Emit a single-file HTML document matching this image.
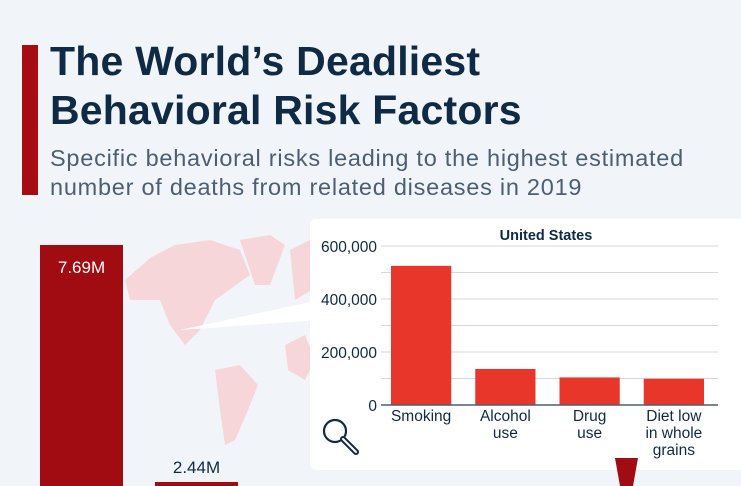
<!DOCTYPE html>
<html><head><meta charset="utf-8"><style>
body{margin:0;width:741px;height:486px;overflow:hidden;background:#f1f5f9;font-family:"Liberation Sans",sans-serif;position:relative}
.abs{position:absolute}
</style></head><body>
<div class="abs" style="left:22px;top:45px;width:16px;height:150px;background:#a50d12"></div>
<div class="abs" style="left:50px;top:37px;font-size:41px;letter-spacing:0.2px;font-weight:bold;color:#0f2a44;line-height:49px;white-space:nowrap">The World’s Deadliest<br>Behavioral Risk Factors</div>
<div class="abs" style="left:50px;top:144px;font-size:23.5px;letter-spacing:0.75px;color:#4b5e74;line-height:29px;white-space:nowrap">Specific behavioral risks leading to the highest estimated<br>number of deaths from related diseases in 2019</div>
<svg class="abs" style="left:0;top:0" width="741" height="486">
<g fill="#f6d6d8">
<path d="M125 280 L150 258 L175 245 L210 240 L240 250 L250 275 L215 300 L200 330 L185 345 L170 325 L160 300 L130 300Z"/>
<path d="M240 240 L270 235 L285 245 L270 285 L255 285Z"/>
<path d="M215 370 L240 365 L258 385 L248 410 L235 440 L225 445 L220 410Z"/>
<path d="M285 345 L305 335 L315 360 L305 380 L288 370Z"/>
<path d="M290 250 L310 240 L312 290 L295 300Z"/>
</g>
<path d="M180 330 L320 300 L320 320Z" fill="#ffffff"/>
</svg>
<div class="abs" style="left:40px;top:245px;width:83px;height:241px;background:#a00c12"></div>
<div class="abs" style="left:40px;top:258px;width:83px;text-align:center;color:#fff;font-size:17px">7.69M</div>
<div class="abs" style="left:155px;top:482px;width:83px;height:4px;background:#a00c12"></div>
<div class="abs" style="left:155px;top:458px;width:83px;text-align:center;color:#0f2a44;font-size:17px">2.44M</div>
<div class="abs" style="left:310px;top:219px;width:440px;height:251px;background:#fff;border-radius:6px"></div>
<svg class="abs" style="left:0;top:0" width="741" height="486" id="chart"></svg>
<svg class="abs" style="left:320px;top:415px" width="50" height="45"><circle cx="15" cy="16" r="11" fill="none" stroke="#0f2a44" stroke-width="2.2"/><path d="M23 24 L36 37" stroke="#0f2a44" stroke-width="6" stroke-linecap="round"/><path d="M23 24 L36 37" stroke="#fff" stroke-width="2" stroke-linecap="round"/></svg>
<svg class="abs" style="left:0;top:0" width="741" height="486"><path d="M615 458 L638 458 L633 486 L620 486Z" fill="#a00c12"/></svg>
<script>
const categories=[["Smoking"],["Alcohol","use"],["Drug","use"],["Diet low","in whole","grains"]];
const values=[525000,136000,104000,99000];
const ticks=[0,200000,400000,600000];
const grid=[100000,200000,300000,400000,500000,600000];
const svg=document.getElementById('chart');const NS='http://www.w3.org/2000/svg';
const x0=381,x1=718,y0=405,y1=246,ymax=600000;
const y=v=>y0-(v/ymax)*(y0-y1);
const band=(x1-x0)/categories.length;
const bx=i=>x0+i*band+10;
function mk(t,a){const e=document.createElementNS(NS,t);for(const k in a)e.setAttribute(k,a[k]);svg.appendChild(e);return e;}
grid.forEach(g=>{const l=mk('line',{x1:x0,x2:x1,y1:y(g),y2:y(g),stroke:'#d3d8de','stroke-width':1});

});
ticks.forEach(t=>{const e=mk('text',{x:377,y:y(t)+6,'text-anchor':'end','font-size':15.5,fill:'#0f2a44'});e.textContent=t.toLocaleString('en-US');

});
values.forEach((v,i)=>{const r=mk('rect',{x:bx(i),y:y(v),width:band-24,height:y0-y(v),fill:'#e8372a'});


categories[i].forEach((ln,j)=>{const t=mk('text',{x:bx(i)+(band-24)/2,y:421+j*17,'text-anchor':'middle','font-size':15.5,fill:'#0f2a44'});t.textContent=ln;

});});
const ax=mk('line',{x1:x0,x2:x1,y1:y0,y2:y0,stroke:'#4b5e74','stroke-width':1.5});


const tt=mk('text',{x:546,y:240,'text-anchor':'middle','font-size':14.5,'font-weight':'bold',fill:'#0f2a44'});tt.textContent='United States';


</script>
</body></html>
